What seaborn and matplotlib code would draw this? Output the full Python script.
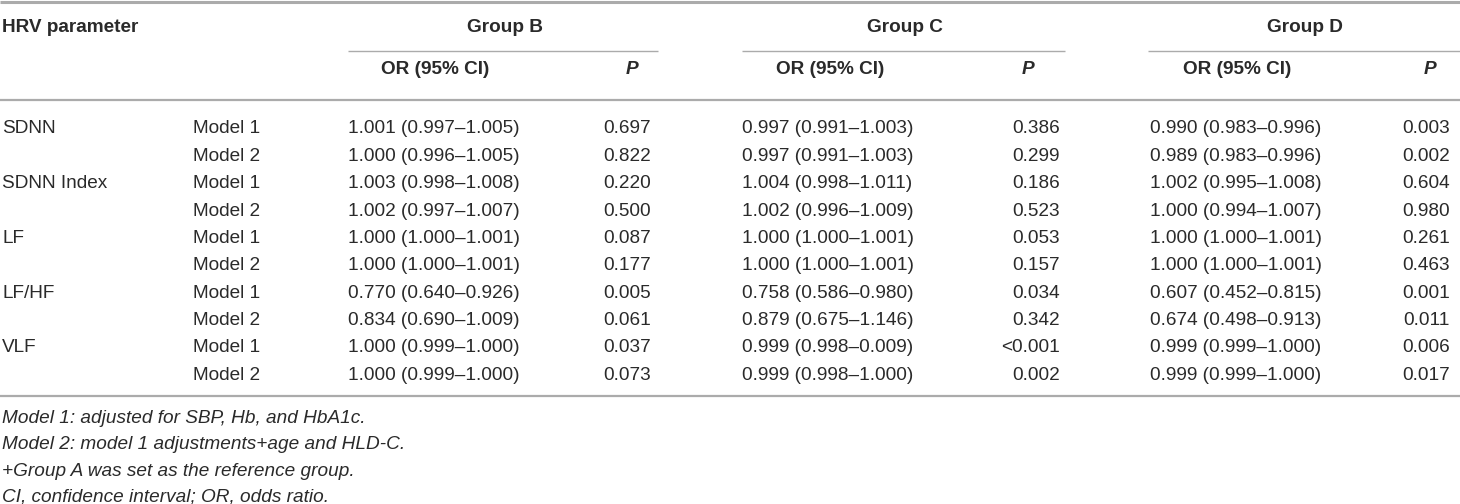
import matplotlib
matplotlib.use("Agg")
import matplotlib.pyplot as plt
import seaborn as sns

sns.set_theme(style="white")
plt.rcParams['font.family'] = ['Liberation Sans', 'DejaVu Sans']

# table data
params = ["SDNN", "SDNN Index", "LF", "LF/HF", "VLF"]
models = ["Model 1", "Model 2"]
groups = ["Group B", "Group C", "Group D"]

or_b = [1.001, 1.000, 1.003, 1.002, 1.000, 1.000, 0.770, 0.834, 1.000, 1.000]
lo_b = [0.997, 0.996, 0.998, 0.997, 1.000, 1.000, 0.640, 0.690, 0.999, 0.999]
hi_b = [1.005, 1.005, 1.008, 1.007, 1.001, 1.001, 0.926, 1.009, 1.000, 1.000]
p_b = ["0.697", "0.822", "0.220", "0.500", "0.087", "0.177", "0.005", "0.061", "0.037", "0.073"]

or_c = [0.997, 0.997, 1.004, 1.002, 1.000, 1.000, 0.758, 0.879, 0.999, 0.999]
lo_c = [0.991, 0.991, 0.998, 0.996, 1.000, 1.000, 0.586, 0.675, 0.998, 0.998]
hi_c = [1.003, 1.003, 1.011, 1.009, 1.001, 1.001, 0.980, 1.146, 0.009, 1.000]
p_c = ["0.386", "0.299", "0.186", "0.523", "0.053", "0.157", "0.034", "0.342", "<0.001", "0.002"]

or_d = [0.990, 0.989, 1.002, 1.000, 1.000, 1.000, 0.607, 0.674, 0.999, 0.999]
lo_d = [0.983, 0.983, 0.995, 0.994, 1.000, 1.000, 0.452, 0.498, 0.999, 0.999]
hi_d = [0.996, 0.996, 1.008, 1.007, 1.001, 1.001, 0.815, 0.913, 1.000, 1.000]
p_d = ["0.003", "0.002", "0.604", "0.980", "0.261", "0.463", "0.001", "0.011", "0.006", "0.017"]

footnotes = [
    "Model 1: adjusted for SBP, Hb, and HbA1c.",
    "Model 2: model 1 adjustments+age and HLD-C.",
    "+Group A was set as the reference group.",
    "CI, confidence interval; OR, odds ratio.",
]

# layout (pixel units)
W, H = 1460, 504
fs = 13.7
txt = "#2a2a2a"
rule = "#ababab"
or_left = [348, 742, 1150]
p_right = [651, 1060, 1450]
or_head = [435, 830, 1237]
p_head = [632, 1028, 1430]
grp_mid = [505, 905, 1305]
rule_span = [(348, 658), (742, 1065), (1148, 1460)]

fig = plt.figure(figsize=(W / 100, H / 100), dpi=100)
ax = fig.add_axes([0, 0, 1, 1])
ax.set_xlim(0, W)
ax.set_ylim(H, 0)
ax.axis("off")

# rules
ax.plot([0, W], [1.5, 1.5], color=rule, lw=2.2, solid_capstyle="butt")
ax.plot([0, W], [100, 100], color=rule, lw=1.6, solid_capstyle="butt")
ax.plot([0, W], [396, 396], color=rule, lw=1.6, solid_capstyle="butt")
for x0, x1 in rule_span:
    ax.plot([x0, x1], [51, 51], color=rule, lw=1.0, solid_capstyle="butt")

# header
ax.text(2, 32, "HRV parameter", fontsize=fs, fontweight="bold", color=txt, va="baseline")
for i, g in enumerate(groups):
    ax.text(grp_mid[i], 32, g, fontsize=fs, fontweight="bold", color=txt, ha="center", va="baseline")
    ax.text(or_head[i], 74, "OR (95% CI)", fontsize=fs, fontweight="bold", color=txt, ha="center", va="baseline")
    ax.text(p_head[i], 74, "P", fontsize=fs, fontweight="bold", style="italic", color=txt, ha="center", va="baseline")

# body
ors = [or_b, or_c, or_d]
los = [lo_b, lo_c, lo_d]
his = [hi_b, hi_c, hi_d]
ps = [p_b, p_c, p_d]
for r in range(len(params) * len(models)):
    yb = 133.3 + 27.4 * r
    if r % 2 == 0:
        ax.text(2, yb, params[r // 2], fontsize=fs, color=txt, va="baseline")
    ax.text(193, yb, models[r % 2], fontsize=fs, color=txt, va="baseline")
    for g in range(3):
        s = f"{ors[g][r]:.3f} ({los[g][r]:.3f}\u2013{his[g][r]:.3f})"
        ax.text(or_left[g], yb, s, fontsize=fs, color=txt, va="baseline")
        ax.text(p_right[g], yb, ps[g][r], fontsize=fs, color=txt, ha="right", va="baseline")

# footnotes
for k, note in enumerate(footnotes):
    ax.text(2, 423.3 + 26.1 * k, note, fontsize=fs, style="italic", color=txt, va="baseline")

fig.savefig("out.png", dpi=100, facecolor="white")
